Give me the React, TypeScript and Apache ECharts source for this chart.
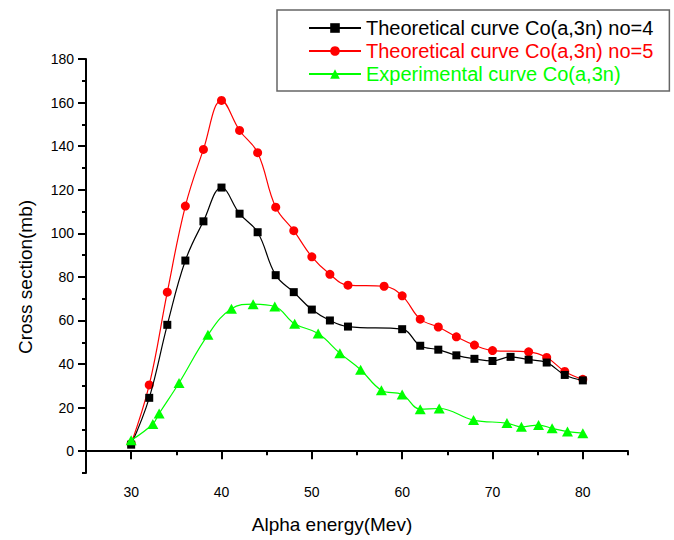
import React, { useEffect, useRef } from "react";
import * as echarts from "echarts";

const FONT = "'Liberation Sans', Arial, sans-serif";

const xMajorTicks = [30, 40, 50, 60, 70, 80];
const xMinorTicks = [25, 35, 45, 55, 65, 75, 85];
const yMajorTicks = [0, 20, 40, 60, 80, 100, 120, 140, 160, 180];
const yMinorTicks = [-10, 10, 30, 50, 70, 90, 110, 130, 150, 170];

const seriesNames = [
  "Theoretical curve Co(a,3n) no=4",
  "Theoretical curve Co(a,3n) no=5",
  "Experimental curve Co(a,3n)",
];

const energyNo4 = [30, 32, 34, 36, 38, 40, 42, 44, 46, 48, 50, 52, 54, 60, 62, 64, 66, 68, 70, 72, 74, 76, 78, 80];
const sectionNo4 = [3, 24.5, 58, 87.5, 105.5, 121, 109, 100.5, 80.8, 73, 65, 60, 57.2, 56, 48.4, 46.6, 44, 42.4, 41.4, 43.3, 42, 40.7, 35, 32.5];

const energyNo5 = [30, 32, 34, 36, 38, 40, 42, 44, 46, 48, 50, 52, 54, 58, 60, 62, 64, 66, 68, 70, 74, 76, 78, 80];
const sectionNo5 = [3.5, 30.4, 73, 112.5, 138.5, 161, 147.2, 137, 112, 101.2, 89.2, 81.2, 76.2, 75.7, 71.3, 60.6, 57, 52.5, 48.7, 46.2, 45.6, 43, 36.6, 33];

const energyExp = [30, 32.4, 33.1, 35.3, 38.5, 41.1, 43.5, 45.9, 48.1, 50.7, 53.1, 55.4, 57.7, 60, 62, 64.1, 67.9, 71.6, 73.2, 75.1, 76.6, 78.3, 80];
const sectionExp = [5, 12.5, 17.3, 31.3, 53.4, 65.4, 67.5, 66.4, 58.5, 54, 45, 37.4, 28, 26, 19.3, 19.6, 14.3, 12.9, 11.2, 12, 10.5, 9, 8.3];

const colors = ["#000000", "#ff0000", "#00ff00"];

const pairs = (xs: number[], ys: number[]) => xs.map((x, i) => [x, ys[i]]);

export default function App() {
  const ref = useRef<HTMLDivElement>(null);
  useEffect(() => {
    if (!ref.current) return;
    const chart = echarts.init(ref.current, null, { renderer: "svg" });
    const axisLineStyle = { color: "#000", width: 2 };
    const grid = { left: 86, right: 46, top: 59, bottom: 67 };
    chart.setOption({
      animation: false,
      backgroundColor: "#fff",
      textStyle: { fontFamily: FONT },
      grid,
      legend: {
        orient: "vertical",
        left: 277,
        top: 10,
        itemWidth: 52,
        itemHeight: 12,
        itemGap: 3,
        padding: [8, 16, 7, 31],
        borderColor: "#666",
        borderWidth: 1.5,
        textStyle: { fontSize: 20, fontFamily: FONT },
        data: seriesNames.map((n, i) => ({ name: n, textStyle: { color: colors[i] } })),
      },
      xAxis: [
        {
          type: "value",
          min: 25,
          max: 85,
          position: "bottom",
          splitLine: { show: false },
          axisLine: { lineStyle: axisLineStyle },
          axisTick: { customValues: xMajorTicks, length: 8, lineStyle: { color: "#000", width: 2 } },
          axisLabel: { customValues: xMajorTicks, fontSize: 14, color: "#000", margin: 12, fontFamily: FONT },
        },
        {
          type: "value",
          min: 25,
          max: 85,
          position: "bottom",
          splitLine: { show: false },
          axisLine: { show: false },
          axisTick: { customValues: xMinorTicks, length: 4, lineStyle: { color: "#000", width: 2 } },
          axisLabel: { show: false },
        },
      ],
      yAxis: [
        {
          type: "value",
          min: -10,
          max: 180,
          position: "left",
          splitLine: { show: false },
          axisLine: { lineStyle: axisLineStyle },
          axisTick: { customValues: yMajorTicks, length: 8, lineStyle: { color: "#000", width: 2 } },
          axisLabel: { customValues: yMajorTicks, fontSize: 14, color: "#000", margin: 12, fontFamily: FONT },
        },
        {
          type: "value",
          min: -10,
          max: 180,
          position: "left",
          splitLine: { show: false },
          axisLine: { show: false },
          axisTick: { customValues: yMinorTicks, length: 4, lineStyle: { color: "#000", width: 2 } },
          axisLabel: { show: false },
        },
      ],
      graphic: [
        {
          type: "text",
          x: 332,
          y: 524,
          style: {
            text: "Alpha energy(Mev)",
            font: `19px ${FONT}`,
            fill: "#000",
            align: "center",
            verticalAlign: "middle",
          },
        },
        {
          type: "text",
          x: 25,
          y: 277,
          rotation: Math.PI / 2,
          style: {
            text: "Cross section(mb)",
            font: `19px ${FONT}`,
            fill: "#000",
            align: "center",
            verticalAlign: "middle",
          },
        },
      ],
      series: [
        {
          name: seriesNames[0],
          type: "line",
          smooth: 0.4,
          data: pairs(energyNo4, sectionNo4),
          symbol: "rect",
          symbolSize: 8,
          lineStyle: { color: colors[0], width: 1.2 },
          itemStyle: { color: colors[0] },
          z: 3,
        },
        {
          name: seriesNames[1],
          type: "line",
          smooth: 0.4,
          data: pairs(energyNo5, sectionNo5),
          symbol: "circle",
          symbolSize: 9,
          lineStyle: { color: colors[1], width: 1.2 },
          itemStyle: { color: colors[1] },
          z: 2,
        },
        {
          name: seriesNames[2],
          type: "line",
          smooth: 0.4,
          data: pairs(energyExp, sectionExp),
          symbol: "triangle",
          symbolSize: [11, 10],
          lineStyle: { color: colors[2], width: 1.2 },
          itemStyle: { color: colors[2] },
          z: 4,
        },
      ],
    });
    return () => chart.dispose();
  }, []);
  return (
    <div
      ref={ref}
      style={{ position: "fixed", left: 0, top: 0, width: 674, height: 540 }}
    />
  );
}
